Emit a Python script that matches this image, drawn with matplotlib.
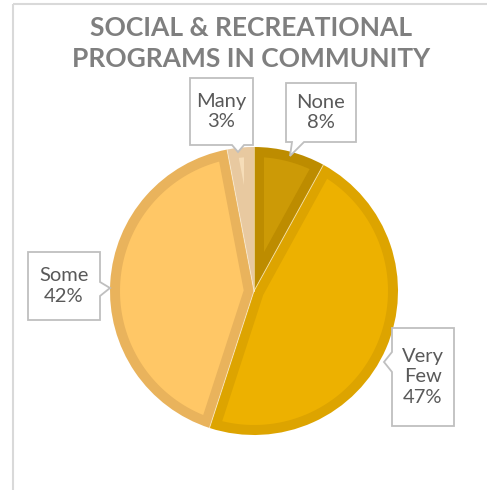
import matplotlib
matplotlib.use("Agg")
import matplotlib.pyplot as plt
from matplotlib.patches import Polygon
import numpy as np

# survey answers
categories = ["None", "Very Few", "Some", "Many"]
shares = [8, 47, 42, 3]
fills = ["#CC9A06", "#EDB100", "#FFC766", "#F6DDB8"]
rims = ["#BD8C00", "#DDA400", "#E9B35C", "#E8C9A0"]

W, H = 487, 490
RIM = 10  # px width of the darker band inside each slice
plt.rcParams['font.family'] = ['Lato', 'DejaVu Sans']

fig = plt.figure(figsize=(W / 100, H / 100), dpi=100)
ax = fig.add_axes([0, 0, 1, 1])


def py(y):
    # pixel rows counted from the top
    return H - y


cx, cy, r = 254, py(291), 144
wedges, _ = ax.pie(shares, colors=rims, startangle=90, counterclock=False,
                   center=(cx, cy), radius=r, frame=True,
                   wedgeprops=dict(linewidth=0))
ax.set_xlim(0, W)
ax.set_ylim(0, H)
ax.set_aspect('auto')
ax.axis('off')

# lighter inset of every slice, leaving a darker rim along all its edges
for w, fc in zip(wedges, fills):
    t1, t2 = np.radians(w.theta1), np.radians(w.theta2)
    half = (t2 - t1) / 2
    rho = r - RIM
    da = np.arcsin(RIM / rho)
    arc = np.linspace(t1 + da, t2 - da, 80)
    apex = RIM / np.sin(half)
    mid = t1 + half
    xs = [cx + apex * np.cos(mid)] + list(cx + rho * np.cos(arc))
    ys = [cy + apex * np.sin(mid)] + list(cy + rho * np.sin(arc))
    ax.add_patch(Polygon(np.column_stack([xs, ys]), closed=True,
                         facecolor=fc, edgecolor='none', zorder=2))

# faint seams between slices
for w in wedges:
    t = np.radians(w.theta1)
    ax.plot([cx, cx + r * np.cos(t)], [cy, cy + r * np.sin(t)],
            color='#FFF6E0', lw=0.7, alpha=0.6, zorder=3)

# chart area frame (top and left edges only visible)
ax.plot([13, W], [py(4), py(4)], color="#D9D9D9", lw=1.5, solid_capstyle='butt')
ax.plot([13, 13], [py(4), 0], color="#D9D9D9", lw=1.5, solid_capstyle='butt')

ax.text(251, py(28), "SOCIAL & RECREATIONAL", ha='center', va='center',
        fontsize=19, fontweight='bold', color="#7F7F7F")
ax.text(251, py(59), "PROGRAMS IN COMMUNITY", ha='center', va='center',
        fontsize=19, fontweight='bold', color="#7F7F7F")


def callout(x0, y0, x1, y1, side, a, b, tip):
    # rectangle with a pointed notch; coords are pixel positions from top-left
    if side == 'bottom':
        pts = [(x0, y0), (x1, y0), (x1, y1), (b, y1), tip, (a, y1), (x0, y1)]
    elif side == 'right':
        pts = [(x0, y0), (x1, y0), (x1, a), tip, (x1, b), (x1, y1), (x0, y1)]
    else:
        pts = [(x0, y0), (x1, y0), (x1, y1), (x0, y1), (x0, b), tip, (x0, a)]
    poly = Polygon([(x, py(y)) for x, y in pts], closed=True,
                   facecolor='white', edgecolor='#BFBFBF', lw=1.3, zorder=5)
    ax.add_patch(poly)


labels = ["None\n8%", "Very\nFew\n47%", "Some\n42%", "Many\n3%"]
boxes = [
    (286, 83, 356, 142, 'bottom', 292, 304, (290, 156)),
    (392, 328, 454, 426, 'left', 352, 372, (384, 362)),
    (28, 252, 100, 320, 'right', 282, 296, (110, 288)),
    (190, 78, 253, 145, 'bottom', 232, 244, (238, 152)),
]
for lab, bx in zip(labels, boxes):
    callout(*bx)
    x0, y0, x1, y1 = bx[:4]
    ax.text((x0 + x1) / 2, py((y0 + y1) / 2), lab, ha='center', va='center',
            fontsize=14.5, color="#595959", linespacing=1.25, zorder=6)

fig.savefig("out.png", dpi=100)
